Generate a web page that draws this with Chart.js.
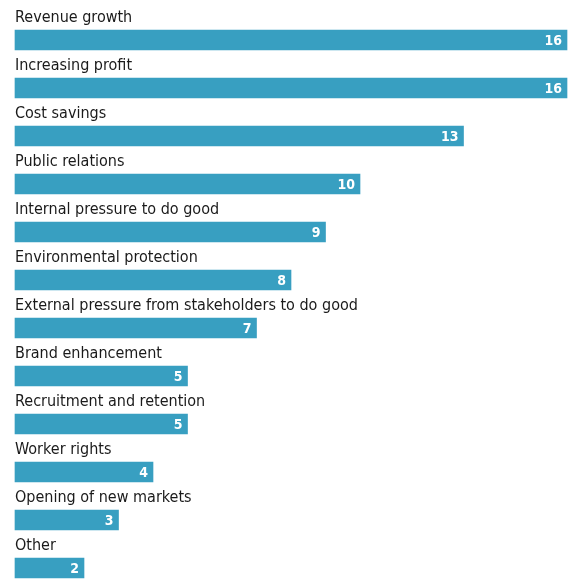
<!DOCTYPE html>
<html>
<head>
<meta charset="utf-8">
<script src="https://cdn.jsdelivr.net/npm/chart.js@4"></script>
<style>
  html, body { margin: 0; padding: 0; background: #fff; }
  canvas { display: block; }
</style>
</head>
<body>
<canvas id="graphique" width="581" height="580"></canvas>
<script>
// Motivations, nombre de réponses
const categories = [
    'Revenue growth',
    'Increasing profit',
    'Cost savings',
    'Public relations',
    'Internal pressure to do good',
    'Environmental protection',
    'External pressure from stakeholders to do good',
    'Brand enhancement',
    'Recruitment and retention',
    'Worker rights',
    'Opening of new markets',
    'Other'
];
const valeurs = [16, 16, 13, 10, 9, 8, 7, 5, 5, 4, 3, 2];

const BLEU = '#389fc1';
const POLICE = '"DejaVu Sans Condensed", "DejaVu Sans", sans-serif';

/* ── Libellés au-dessus des barres + valeurs dans les barres ── */
const etiquettes = {
    id: 'etiquettes',
    afterDatasetsDraw(chart) {
        const ctx = chart.ctx;
        const meta = chart.getDatasetMeta(0);
        const gauche = chart.chartArea.left;
        ctx.save();
        meta.data.forEach((barre, i) => {
            // nom de la catégorie
            ctx.font = `16px ${POLICE}`;
            ctx.fillStyle = '#1a1a1a';
            ctx.textAlign = 'left';
            ctx.textBaseline = 'alphabetic';
            ctx.fillText(categories[i], gauche, barre.y - 18);

            // valeur en blanc au bout de la barre
            ctx.font = `bold 14px ${POLICE}`;
            ctx.fillStyle = '#fff';
            ctx.textAlign = 'right';
            ctx.textBaseline = 'middle';
            ctx.fillText(String(valeurs[i]), barre.x - 5, barre.y + 1);
        });
        ctx.restore();
    }
};

new Chart(document.getElementById('graphique'), {
    type: 'bar',
    data: {
        labels: categories,
        datasets: [{
            data: valeurs,
            backgroundColor: BLEU,
            borderWidth: 0,
            barThickness: 20,
            clip: false
        }]
    },
    options: {
        indexAxis: 'y',
        responsive: false,
        animation: false,
        layout: { padding: { left: 15, right: 14, top: 40, bottom: 12 } },
        plugins: {
            legend: { display: false },
            tooltip: { enabled: false }
        },
        scales: {
            x: { display: false, min: 0, max: 16 },
            y: { display: false, offset: false }
        }
    },
    plugins: [etiquettes]
});
</script>
</body>
</html>
